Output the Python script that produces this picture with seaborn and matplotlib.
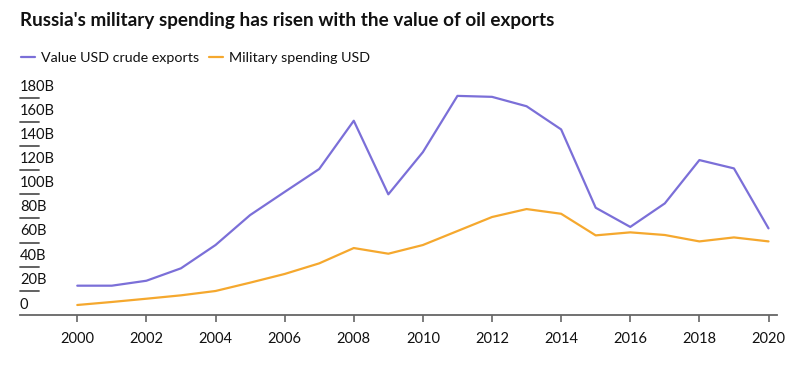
import matplotlib
matplotlib.use("Agg")
import matplotlib.pyplot as plt
import matplotlib.transforms as mtransforms
from matplotlib.lines import Line2D
import seaborn as sns
import pandas as pd

years = list(range(2000, 2021))
crude_exports = [24.3, 24.3, 28.4, 38.7, 58.0, 82.8, 102.0, 121.0, 161.0, 100.0, 135.0,
                 181.6, 180.8, 173.0, 153.8, 88.9, 73.0, 92.5, 128.4, 121.5, 71.8]
military = [8.3, 10.8, 13.5, 16.3, 19.9, 26.8, 34.0, 42.8, 55.5, 50.8, 58.0,
            69.6, 81.2, 87.8, 83.9, 66.0, 68.5, 66.3, 61.0, 64.3, 61.0]
series_names = ["Value USD crude exports", "Military spending USD"]
y_ticks = [0, 20, 40, 60, 80, 100, 120, 140, 160, 180]
y_tick_labels = ["0"] + [f"{v}B" for v in y_ticks[1:]]
x_ticks = list(range(2000, 2021, 2))

df = pd.DataFrame({
    "year": years * 2,
    "value": crude_exports + military,
    "series": [series_names[0]] * len(years) + [series_names[1]] * len(years),
})

sns.set_theme(style="white")
plt.rcParams["font.family"] = ["Lato", "DejaVu Sans"]

fig = plt.figure(figsize=(8, 3.68), dpi=100)
ax = fig.add_axes([0.025, 0.144, 0.946, 0.623])

palette = {series_names[0]: "#7b6fd8", series_names[1]: "#f5a82e"}
sns.lineplot(data=df, x="year", y="value", hue="series", palette=palette,
             linewidth=1.6, ax=ax, legend=False)

ax.set_xlim(1998.343, 2020.24)
ax.set_ylim(0, 190)
ax.set_xlabel("")
ax.set_ylabel("")
for s in ["top", "right", "left"]:
    ax.spines[s].set_visible(False)
ax.spines["bottom"].set_color("#666666")
ax.spines["bottom"].set_linewidth(1.3)

ax.set_xticks(x_ticks)
ax.set_xticklabels([str(x) for x in x_ticks], fontsize=10.5, color="#111111")
ax.tick_params(axis="x", direction="out", length=5, width=1.2, color="#666666", pad=7, bottom=True)
ax.set_yticks([])

trans = mtransforms.blended_transform_factory(ax.transAxes, ax.transData)
for v, lab in zip(y_ticks, y_tick_labels):
    if v != 0:
        ax.plot([0, 0.025], [v, v], transform=trans, color="#555555", lw=1.3, clip_on=False)
    ax.annotate(lab, xy=(0, v), xycoords=trans, xytext=(0, 3 if v else 2), textcoords="offset points",
                ha="left", va="bottom", fontsize=10.5, color="#111111")

fig.text(0.025, 0.945, "Russia's military spending has risen with the value of oil exports",
         fontsize=13.6, fontweight="bold", ha="left", va="center", color="#111111")

handles = [Line2D([0], [0], color=palette[n], lw=1.6) for n in series_names]
fig.legend(handles, series_names, loc="center left", bbox_to_anchor=(0.026, 0.843),
           ncol=2, frameon=False, fontsize=10.3, handlelength=1.0, handletextpad=0.4,
           columnspacing=0.7, borderpad=0.0, borderaxespad=0.0, labelcolor="#111111")

fig.savefig("out.png", dpi=100)
